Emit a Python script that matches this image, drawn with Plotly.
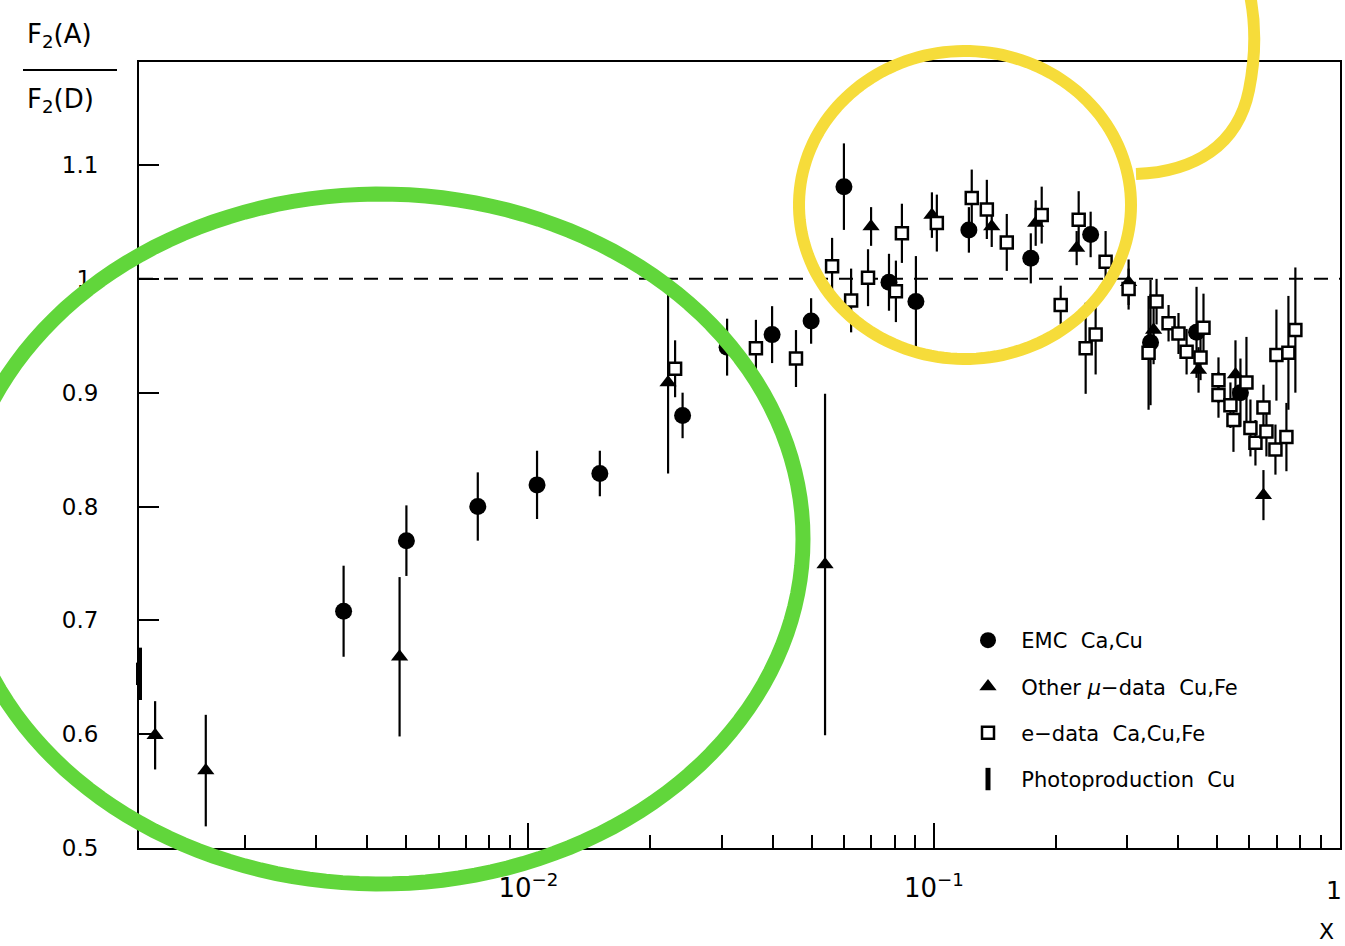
import numpy as np
import plotly.graph_objects as go

# ---------------- data ----------------
emc_x = [0.0035, 0.0050, 0.0075, 0.0105, 0.0150, 0.0240, 0.0309, 0.0399, 0.0498,
         0.0600, 0.0775, 0.0903, 0.1220, 0.1734, 0.2436, 0.3423, 0.4445, 0.5704]
emc_y = [0.708, 0.770, 0.800, 0.819, 0.829, 0.880, 0.940, 0.951, 0.963,
         1.081, 0.997, 0.980, 1.043, 1.018, 1.039, 0.944, 0.953, 0.900]
emc_err = [0.040, 0.031, 0.030, 0.030, 0.020, 0.020, 0.025, 0.025, 0.020,
           0.038, 0.025, 0.040, 0.020, 0.022, 0.020, 0.055, 0.040, 0.030]

mu_x = [0.0012, 0.0016, 0.00481, 0.0221, 0.0539, 0.0700, 0.0989, 0.1389,
        0.1783, 0.2250, 0.3022, 0.3483, 0.4496, 0.5545, 0.6500]
mu_y = [0.599, 0.568, 0.668, 0.909, 0.749, 1.046, 1.056, 1.046,
        1.049, 1.027, 0.997, 0.955, 0.920, 0.916, 0.810]
mu_err = [0.030, 0.049, 0.070, 0.080, 0.150, 0.017, 0.020, 0.018,
          0.020, 0.015, 0.020, 0.030, 0.020, 0.030, 0.022]

e_x = [0.0230, 0.0364, 0.0457, 0.0561, 0.0625, 0.0688, 0.0806, 0.0834, 0.1017, 0.1240,
       0.1351, 0.1513, 0.1845, 0.2055, 0.2276, 0.2368, 0.2506, 0.2652, 0.3022, 0.3385,
       0.3542, 0.3792, 0.4012, 0.4201, 0.4547, 0.4624, 0.5035, 0.5035, 0.5389, 0.5482,
       0.5902, 0.6037, 0.6211, 0.6500, 0.6611, 0.6958, 0.6997, 0.7406, 0.7490, 0.7792]
e_y = [0.921, 0.939, 0.930, 1.011, 0.981, 1.001, 0.989, 1.040, 1.049, 1.071,
       1.061, 1.032, 1.056, 0.977, 1.052, 0.939, 0.951, 1.015, 0.991, 0.935,
       0.980, 0.961, 0.952, 0.936, 0.931, 0.957, 0.911, 0.898, 0.889, 0.876,
       0.909, 0.869, 0.856, 0.887, 0.866, 0.850, 0.933, 0.861, 0.935, 0.955]
e_err = [0.025, 0.025, 0.025, 0.025, 0.028, 0.025, 0.027, 0.026, 0.025, 0.025,
         0.026, 0.025, 0.025, 0.017, 0.025, 0.040, 0.035, 0.027, 0.018, 0.050,
         0.020, 0.016, 0.018, 0.020, 0.020, 0.030, 0.020, 0.020, 0.020, 0.028,
         0.040, 0.025, 0.020, 0.020, 0.022, 0.022, 0.040, 0.030, 0.050, 0.055]

photo_x = [0.001095]
photo_y = [0.653]
photo_err = [0.023]

y_tickvals = [0.5, 0.6, 0.7, 0.8, 0.9, 1.0, 1.1]
y_ticktext = ["0.5", "0.6", "0.7", "0.8", "0.9", "1.", "1.1"]
x_tickvals = [0.01, 0.1, 1]
x_ticktext = ["10<sup>\u22122</sup>", "10<sup>\u22121</sup>", ""]
x_end_label = "1"
x_minor = [k * 10.0 ** e for e in (-3, -2, -1) for k in range(2, 10)]

NB = "\u00a0"
names = [NB * 2 + "EMC" + NB * 2 + "Ca,Cu",
         NB * 2 + "Other" + NB + "<i>\u03bc</i>\u2212data" + NB * 2 + "Cu,Fe",
         NB * 2 + "e\u2212data" + NB * 2 + "Ca,Cu,Fe",
         NB * 2 + "Photoproduction" + NB * 2 + "Cu"]

# ---------------- geometry helpers for decorative paper shapes ----------------
L, R, T, B = 139, 1340, 62, 848


def px(xp):
    return (xp - L) / (R - L)


def py(yp):
    return (B - yp) / (B - T)


def ellipse_path(cx, cy, rx, ry, n=160):
    t = np.linspace(0, 2 * np.pi, n)
    xs = cx + rx * np.cos(t)
    ys = cy + ry * np.sin(t)
    pts = [f"{px(a):.5f},{py(b):.5f}" for a, b in zip(xs, ys)]
    return "M " + " L ".join(pts) + " Z"


def bez_path(points):
    (x0, y0), rest = points[0], points[1:]
    s = f"M {px(x0):.5f},{py(y0):.5f}"
    for i in range(0, len(rest), 3):
        c = rest[i:i + 3]
        s += " C " + " ".join(f"{px(a):.5f},{py(b):.5f}" for a, b in c)
    return s


# ---------------- figure ----------------
fig = go.Figure()
err_style = dict(type="data", visible=True, color="black", thickness=2.2, width=0)

fig.add_trace(go.Scatter(
    x=emc_x, y=emc_y, mode="markers", name=names[0],
    error_y=dict(array=emc_err, **err_style),
    marker=dict(symbol="circle", size=17, color="black"),
    legendgroup="g1", cliponaxis=False))

fig.add_trace(go.Scatter(
    x=mu_x, y=mu_y, mode="markers", name=names[1],
    error_y=dict(array=mu_err, **err_style),
    marker=dict(symbol="triangle-up", size=15, color="black"),
    legendgroup="g2", cliponaxis=False))

fig.add_trace(go.Scatter(
    x=e_x, y=e_y, mode="markers", name=names[2],
    error_y=dict(array=e_err, **err_style),
    marker=dict(symbol="square", size=12, color="white",
                line=dict(color="black", width=2.5)),
    legendgroup="g3", cliponaxis=False))

fig.add_trace(go.Scatter(
    x=photo_x, y=photo_y, mode="markers", name=names[3],
    error_y=dict(array=photo_err, type="data", visible=True, color="black",
                 thickness=6, width=0),
    marker=dict(symbol="line-ns", size=16, color="black",
                line=dict(color="black", width=6)),
    legendgroup="g4", cliponaxis=False))

shapes = [
    # reference line at ratio 1
    dict(type="line", xref="paper", yref="y", x0=0, x1=1, y0=1.0, y1=1.0,
         line=dict(color="black", width=2, dash="14px,11px"), layer="below"),
    # fraction bar of the axis title
    dict(type="line", xref="paper", yref="paper", x0=px(23), x1=px(117),
         y0=py(70), y1=py(70), line=dict(color="black", width=2)),
    # hand-drawn highlight: green ellipse
    dict(type="path", xref="paper", yref="paper",
         path=ellipse_path(380, 539, 423, 345),
         line=dict(color="#61D63B", width=15), layer="above"),
    # hand-drawn highlight: yellow loop + tail
    dict(type="path", xref="paper", yref="paper",
         path=ellipse_path(965, 205, 166, 154),
         line=dict(color="#F6DC3A", width=12), layer="above"),
    dict(type="path", xref="paper", yref="paper",
         path=bez_path([(1136, 174), (1195, 172), (1238, 145), (1249, 90),
                        (1257, 50), (1255, 20), (1250, -5)]),
         line=dict(color="#F6DC3A", width=12), layer="above"),
]

annotations = [
    dict(text="F<sub>2</sub>(A)", xref="paper", yref="paper", x=px(25), y=py(35),
         xanchor="left", yanchor="middle", showarrow=False,
         font=dict(size=26, family="DejaVu Sans", color="black")),
    dict(text="F<sub>2</sub>(D)", xref="paper", yref="paper", x=px(25), y=py(100),
         xanchor="left", yanchor="middle", showarrow=False,
         font=dict(size=26, family="DejaVu Sans", color="black")),
    dict(text="X", xref="paper", yref="paper", x=px(1326), y=py(931),
         xanchor="center", yanchor="middle", showarrow=False,
         font=dict(size=22, family="DejaVu Sans", color="black")),
    # end label of the x axis (kept inside the page)
    dict(text=x_end_label, xref="paper", yref="paper", x=px(1344), y=py(874),
         xanchor="right", yanchor="top", showarrow=False,
         font=dict(size=25, family="DejaVu Sans", color="black")),
]

fig.update_layout(
    width=1345, height=946,
    margin=dict(l=L, r=1345 - R, t=T, b=946 - B, autoexpand=False),
    paper_bgcolor="white", plot_bgcolor="white",
    font=dict(family="DejaVu Sans", size=23, color="black"),
    showlegend=True,
    legend=dict(x=px(968), y=py(620), xanchor="left", yanchor="top",
                traceorder="grouped", tracegroupgap=16,
                font=dict(size=21, family="DejaVu Sans", color="black"),
                bgcolor="rgba(0,0,0,0)", itemwidth=30),
    shapes=shapes, annotations=annotations,
)

fig.update_xaxes(
    type="log", range=[np.log10(0.001095), np.log10(1.004)],
    automargin=False,
    showline=True, linecolor="black", linewidth=2, mirror=True,
    showgrid=False, zeroline=False,
    ticks="inside", ticklen=25, tickwidth=2, tickcolor="black",
    tickmode="array", tickvals=x_tickvals, ticktext=x_ticktext,
    tickfont=dict(size=26), ticklabelstandoff=16,
    minor=dict(ticks="inside", ticklen=13, tickwidth=2, tickcolor="black",
               tickmode="array", tickvals=x_minor, showgrid=False),
)
fig.update_yaxes(
    range=[0.5, 1.1905], automargin=False,
    showline=True, linecolor="black", linewidth=2, mirror=True,
    showgrid=False, zeroline=False,
    ticks="inside", ticklen=20, tickwidth=2, tickcolor="black",
    tickmode="array", tickvals=y_tickvals, ticktext=y_ticktext,
    tickfont=dict(size=23), ticklabelstandoff=34,
)

fig.write_html("out.html")
